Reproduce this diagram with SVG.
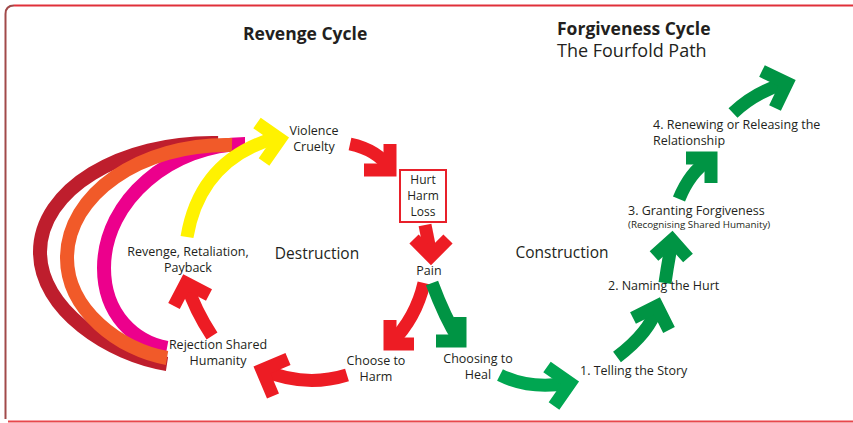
<svg xmlns="http://www.w3.org/2000/svg" width="853" height="423" viewBox="0 0 853 423">
<style>
text{font-family:"Open Sans","Noto Sans","DejaVu Sans",sans-serif;fill:#231f20;}
.lbl{font-size:12.5px;text-anchor:middle;}
.box{font-size:12px;text-anchor:middle;}
.lft{font-size:12.5px;}
.sm{font-size:9.8px;}
.sec{font-size:15.5px;}
.ttl{font-size:17.5px;font-weight:bold;}
.sub{font-size:18px;}
.a{fill:none;stroke-width:13;stroke-linejoin:miter;stroke-miterlimit:4;}
.red{stroke:#ed1c24;}
.grn{stroke:#009444;}
.grn2{stroke:#00a651;}
.yel{stroke:#fff200;}
.arc{fill:none;stroke-width:14;}
</style>
<rect width="853" height="423" fill="#ffffff"/>
<g id="frame" fill="none">
<path d="M5.5,419 V14 Q5.5,5.5 14,5.5" stroke="#a14a4a" stroke-width="2"/>
<path d="M14,5.5 H853" stroke="#e0303a" stroke-width="2.2"/>
<path d="M8,421.5 H853" stroke="#e8474c" stroke-width="2"/>
</g>
<g id="titles">
<text class="ttl" x="243" y="40">Revenge Cycle</text>
<text class="ttl" x="557" y="35">Forgiveness Cycle</text>
<text class="sub" x="557" y="57">The Fourfold Path</text>
<text class="sec" x="317" y="259" text-anchor="middle">Destruction</text>
<text class="sec" x="562" y="258" text-anchor="middle">Construction</text>
</g>
<g id="connectors">
<g id="arcs">
<path class="arc" stroke="#be1e2d" d="M218,143 C120,141 40,190 40,252 C40,310 110,355 167,364"/>
<path class="arc" stroke="#ec008c" stroke-width="13" d="M245,144 C172,144 104,200 104,268 C104,315 135,342 167,348"/>
<path class="arc" stroke="#f15a29" d="M232,145 C140,143 67,195 67,258 C67,310 120,350 167,358"/>
</g>
<g id="e-revenge-violence">
<path class="a yel" d="M187,237 Q200,160 275,138"/>
<polyline class="a yel" points="264,162 280,139 257,123"/>
</g>
<g id="e-violence-hurt">
<path class="a red" d="M350,144 Q378,150 390,169"/>
<polyline class="a red" points="364,170 390,170 390,144"/>
</g>
<g id="e-hurt-pain">
<path class="a red" d="M425,225 Q428,240 431,255"/>
<polyline class="a red" points="414,239 431,256 448,239"/>
</g>
<g id="e-pain-harm">
<path class="a red" d="M424,283 Q416,318 391,343"/>
<polyline class="a red" points="390,320 390,344 414,344"/>
</g>
<g id="e-pain-heal">
<path class="a grn" d="M432,283 Q445,318 459,340"/>
<polyline class="a grn" points="436,341 460,341 460,317"/>
</g>
<g id="e-harm-rejection">
<path class="a red" d="M347,375 Q305,388 263,370"/>
<polyline class="a red" points="288,359 262,370 273,396"/>
</g>
<g id="e-rejection-revenge">
<path class="a red" d="M212,336 Q195,310 187,285"/>
<polyline class="a red" points="209,295 186,283 174,306"/>
</g>
<g id="e-heal-telling">
<path class="a grn2" d="M500,375 Q530,390 569,383"/>
<polyline class="a grn2" points="554,406 570,383 547,367"/>
</g>
<g id="e-telling-naming">
<path class="a grn" d="M617,357 Q650,332 657,307"/>
<polyline class="a grn" points="669,330 657,306 633,318"/>
</g>
<g id="e-naming-granting">
<path class="a grn" d="M665,283 Q668,262 672,242"/>
<polyline class="a grn" points="688,258 672,240 654,256"/>
</g>
<g id="e-granting-renewing">
<path class="a grn" d="M679,199 Q690,172 709,160"/>
<polyline class="a grn" points="686,158 711,158 711,183"/>
</g>
<g id="e-renewing-out">
<path class="a grn" d="M733,113 Q755,92 786,83"/>
<polyline class="a grn" points="775,108 787,83 762,71"/>
</g>
</g>
<g id="n-violence"><text class="lbl" x="314" y="135">Violence</text><text class="lbl" x="314" y="151">Cruelty</text></g>
<g id="n-hurt">
<rect x="400" y="170" width="46" height="52" fill="#ffffff" stroke="#e8202a" stroke-width="2"/>
<text class="box" x="423" y="184">Hurt</text><text class="box" x="423" y="200">Harm</text><text class="box" x="423" y="216">Loss</text>
</g>
<g id="n-pain"><text class="lbl" x="429" y="275">Pain</text></g>
<g id="n-harm"><text class="lbl" x="376" y="365">Choose to</text><text class="lbl" x="376" y="381">Harm</text></g>
<g id="n-heal"><text class="lbl" x="478" y="363">Choosing to</text><text class="lbl" x="478" y="379">Heal</text></g>
<g id="n-rejection"><text class="lbl" x="218" y="349">Rejection Shared</text><text class="lbl" x="218" y="365">Humanity</text></g>
<g id="n-revenge"><text class="lbl" x="188" y="256">Revenge, Retaliation,</text><text class="lbl" x="188" y="272">Payback</text></g>
<g id="n-telling"><text class="lft" x="580" y="375">1. Telling the Story</text></g>
<g id="n-naming"><text class="lft" x="608" y="290">2. Naming the Hurt</text></g>
<g id="n-granting"><text class="lft" x="628" y="215">3. Granting Forgiveness</text><text class="sm" x="628" y="228">(Recognising Shared Humanity)</text></g>
<g id="n-renewing"><text class="lft" x="653" y="129">4. Renewing or Releasing the</text><text class="lft" x="653" y="145">Relationship</text></g>
</svg>
